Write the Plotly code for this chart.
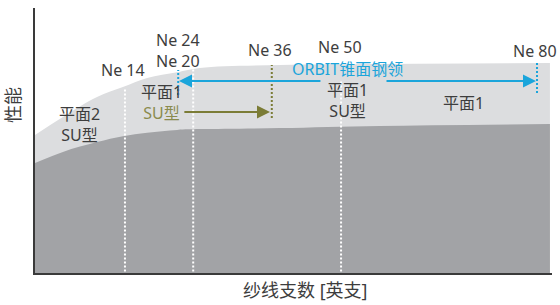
import plotly.graph_objects as go

# ---- data (schematic axis: 0-100 along yarn count, 0-100 performance) ----
curve_x = [0, 5.4, 12, 17, 21.7, 27.5, 31.9, 47.4, 66.7, 99.6]
light_top = [52.1, 58.9, 66.4, 70.2, 73.6, 75.8, 77.4, 78.5, 78.9, 79.2]   # 平面 / SU 钢领性能上限
dark_top = [41.5, 45.7, 49.4, 51.6, 52.9, 54.0, 54.3, 54.7, 55.5, 56.2]

ne_labels = ["Ne 14", "Ne 24<br>Ne 20", "Ne 36", "Ne 50", "Ne 80"]
ne_label_x = [17.0, 27.7, 45.4, 58.9, 96.7]
ne_label_y = [76.6, 84.0, 84.2, 85.3, 83.8]

white_x = [17.4, 30.6, 59.2]          # Ne 14, Ne 20, Ne 50 boundaries
white_top = [69.8, 77.7, 72.8]

orbit_x = [27.85, 96.9]               # ORBIT range Ne 24 - Ne 80
orbit_gap = [55.5, 67.7]
orbit_y = 72.5
orbit_tick_x = [27.7, 97.1]
orbit_tick_y = [[67.2, 76.6], [67.9, 79.2]]

su_x = [28.6, 45.45]                  # SU 平面1 range up to Ne 36
su_y = 60.75
su_tick_x = 45.8
su_tick_y = [58.5, 78.5]

# ---- styles ----
TXT = "#3d3d3d"
BLUE = "#1ba5db"
OLIVE = "#7b7c36"
OLIVE_TXT = "#8a8b4e"
LIGHT = "#dcdddf"
DARK = "#a2a3a6"
FONT = "Noto Sans, Noto Sans CJK SC, sans-serif"

region_texts = [
    "平面2<br>SU型",
    "平面1<br><span style='color:%s'>SU型</span>" % OLIVE_TXT,
    "<span style='color:%s'>ORBIT锥面钢领</span><br>平面1<br>SU型" % BLUE,
    "平面1",
]
region_x = [8.7, 24.4, 60.5, 82.8]
region_y = [56.2, 64.5, 69.2, 64.2]

fig = go.Figure()

fig.add_trace(go.Scatter(x=curve_x, y=light_top, mode="lines", line=dict(width=0, shape="spline", color=LIGHT),
                         fill="tozeroy", fillcolor=LIGHT, hoverinfo="skip"))
fig.add_trace(go.Scatter(x=curve_x, y=dark_top, mode="lines", line=dict(width=0, shape="spline", color=DARK),
                         fill="tozeroy", fillcolor=DARK, hoverinfo="skip"))

for wx, wt in zip(white_x, white_top):
    fig.add_trace(go.Scatter(x=[wx, wx], y=[0.6, wt], mode="lines",
                             line=dict(color="white", width=2, dash="2px,2px"), hoverinfo="skip"))

for ox, oy in zip(orbit_tick_x, orbit_tick_y):
    fig.add_trace(go.Scatter(x=[ox, ox], y=oy, mode="lines",
                             line=dict(color=BLUE, width=2, dash="2px,2px"), hoverinfo="skip"))

fig.add_trace(go.Scatter(x=[su_tick_x, su_tick_x], y=su_tick_y, mode="lines",
                         line=dict(color=OLIVE, width=2, dash="2px,2px"), hoverinfo="skip"))

ann = []
# arrows
ann.append(dict(x=orbit_x[0], y=orbit_y, ax=orbit_gap[0], ay=orbit_y, xref="x", yref="y", axref="x", ayref="y",
                text="", showarrow=True, arrowhead=2, arrowsize=1.3, arrowwidth=2, arrowcolor=BLUE, standoff=0))
ann.append(dict(x=orbit_x[1], y=orbit_y, ax=orbit_gap[1], ay=orbit_y, xref="x", yref="y", axref="x", ayref="y",
                text="", showarrow=True, arrowhead=2, arrowsize=1.3, arrowwidth=2, arrowcolor=BLUE, standoff=0))
ann.append(dict(x=su_x[1], y=su_y, ax=su_x[0], ay=su_y, xref="x", yref="y", axref="x", ayref="y",
                text="", showarrow=True, arrowhead=2, arrowsize=1.3, arrowwidth=2, arrowcolor=OLIVE, standoff=0))

for t, x, y in zip(ne_labels, ne_label_x, ne_label_y):
    ann.append(dict(x=x, y=y, xref="x", yref="y", text=t, showarrow=False, borderpad=0,
                    font=dict(size=16, color=TXT, family=FONT)))

for t, x, y in zip(region_texts, region_x, region_y):
    ann.append(dict(x=x, y=y, xref="x", yref="y", text=t, showarrow=False, borderpad=0,
                    font=dict(size=16, color=TXT, family=FONT)))

# axis titles
ann.append(dict(x=0.5235, y=0, xref="paper", yref="paper", yanchor="middle", yshift=-17,
                text="纱线支数 [英支]", showarrow=False, font=dict(size=18, color=TXT, family=FONT)))
ann.append(dict(x=0, y=0.634, xref="paper", yref="paper", xanchor="center", xshift=-22, textangle=-90,
                text="性能", showarrow=False, font=dict(size=18, color=TXT, family=FONT)))

fig.update_layout(
    width=560, height=305,
    margin=dict(l=35, r=8, t=8, b=32),
    paper_bgcolor="white", plot_bgcolor="white",
    showlegend=False,
    annotations=ann,
    xaxis=dict(range=[0, 100], showgrid=False, zeroline=False, showticklabels=False, ticks="",
               showline=True, linecolor="#3a3a3a", linewidth=2, fixedrange=True),
    yaxis=dict(range=[0, 100], showgrid=False, zeroline=False, showticklabels=False, ticks="",
               showline=True, linecolor="#3a3a3a", linewidth=2, fixedrange=True),
)

fig.write_html("out.html", config={"displayModeBar": False},
               post_script="document.body.style.margin='0';document.body.style.overflow='hidden';")
